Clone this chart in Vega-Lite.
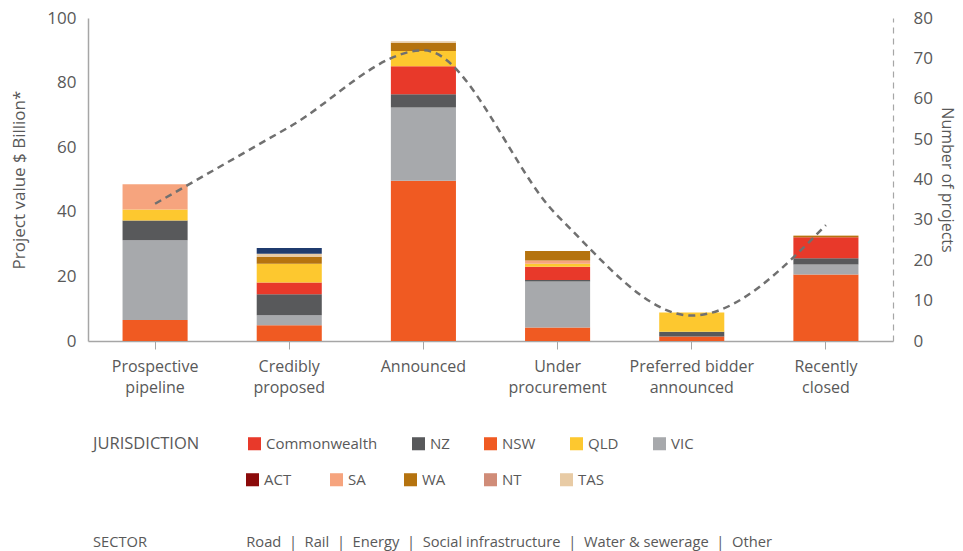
{
  "$schema": "https://vega.github.io/schema/vega-lite/v6.json",
  "autosize": "none",
  "width": 805,
  "height": 323,
  "padding": {"left": 88, "top": 18, "right": 70, "bottom": 210},
  "background": "white",
  "config": {
    "view": {"stroke": null},
    "font": "Open Sans",
    "axis": {"labelColor": "#595959", "titleColor": "#595959", "labelFont": "Open Sans", "titleFont": "Open Sans", "titleFontWeight": "normal", "domainColor": "#A6A6A6", "tickColor": "#A6A6A6", "grid": false},
    "legend": {"padding": 0, "labelFontSize": 15, "labelColor": "#595959", "labelFont": "Open Sans", "symbolType": "square", "symbolSize": 170, "symbolStrokeWidth": 0, "titleFontSize": 16.5, "titleFontWeight": "normal", "titleColor": "#595959", "titleFont": "Open Sans"}
  },
  "title": {
    "text": "SECTOR\u00a0\u00a0\u00a0\u00a0\u00a0\u00a0\u00a0\u00a0\u00a0\u00a0\u00a0\u00a0\u00a0\u00a0\u00a0\u00a0\u00a0\u00a0\u00a0\u00a0\u00a0\u00a0\u00a0\u00a0\u00a0\u00a0Road\u00a0\u00a0|\u00a0\u00a0Rail\u00a0\u00a0|\u00a0\u00a0Energy\u00a0\u00a0|\u00a0\u00a0Social infrastructure\u00a0\u00a0|\u00a0\u00a0Water & sewerage\u00a0\u00a0|\u00a0\u00a0Other",
    "orient": "bottom",
    "anchor": "start",
    "frame": "group",
    "dx": 5,
    "fontSize": 14.7,
    "fontWeight": "normal",
    "color": "#595959",
    "font": "Open Sans",
    "offset": 47
  },
  "datasets": {
    "bars": [
      {"stage": "Prospective pipeline", "jurisdiction": "NSW", "value": 6.5, "rank": 1},
      {"stage": "Prospective pipeline", "jurisdiction": "VIC", "value": 24.7, "rank": 2},
      {"stage": "Prospective pipeline", "jurisdiction": "NZ", "value": 6.1, "rank": 3},
      {"stage": "Prospective pipeline", "jurisdiction": "QLD", "value": 3.4, "rank": 5},
      {"stage": "Prospective pipeline", "jurisdiction": "SA", "value": 7.8, "rank": 6},
      {"stage": "Credibly proposed", "jurisdiction": "NSW", "value": 4.9, "rank": 1},
      {"stage": "Credibly proposed", "jurisdiction": "VIC", "value": 3.1, "rank": 2},
      {"stage": "Credibly proposed", "jurisdiction": "NZ", "value": 6.5, "rank": 3},
      {"stage": "Credibly proposed", "jurisdiction": "Commonwealth", "value": 3.6, "rank": 4},
      {"stage": "Credibly proposed", "jurisdiction": "QLD", "value": 5.8, "rank": 5},
      {"stage": "Credibly proposed", "jurisdiction": "WA", "value": 2.1, "rank": 7},
      {"stage": "Credibly proposed", "jurisdiction": "TAS", "value": 1.0, "rank": 10},
      {"stage": "Credibly proposed", "jurisdiction": "Other", "value": 1.8, "rank": 11},
      {"stage": "Announced", "jurisdiction": "NSW", "value": 49.6, "rank": 1},
      {"stage": "Announced", "jurisdiction": "VIC", "value": 22.7, "rank": 2},
      {"stage": "Announced", "jurisdiction": "NZ", "value": 4.1, "rank": 3},
      {"stage": "Announced", "jurisdiction": "Commonwealth", "value": 8.7, "rank": 4},
      {"stage": "Announced", "jurisdiction": "QLD", "value": 4.7, "rank": 5},
      {"stage": "Announced", "jurisdiction": "WA", "value": 2.5, "rank": 7},
      {"stage": "Announced", "jurisdiction": "TAS", "value": 0.5, "rank": 10},
      {"stage": "Under procurement", "jurisdiction": "NSW", "value": 4.2, "rank": 1},
      {"stage": "Under procurement", "jurisdiction": "VIC", "value": 14.2, "rank": 2},
      {"stage": "Under procurement", "jurisdiction": "NZ", "value": 0.5, "rank": 3},
      {"stage": "Under procurement", "jurisdiction": "Commonwealth", "value": 4.1, "rank": 4},
      {"stage": "Under procurement", "jurisdiction": "QLD", "value": 0.9, "rank": 5},
      {"stage": "Under procurement", "jurisdiction": "SA", "value": 1.0, "rank": 6},
      {"stage": "Under procurement", "jurisdiction": "WA", "value": 3.0, "rank": 7},
      {"stage": "Preferred bidder announced", "jurisdiction": "NSW", "value": 1.4, "rank": 1},
      {"stage": "Preferred bidder announced", "jurisdiction": "NZ", "value": 1.5, "rank": 3},
      {"stage": "Preferred bidder announced", "jurisdiction": "QLD", "value": 5.9, "rank": 5},
      {"stage": "Recently closed", "jurisdiction": "NSW", "value": 20.6, "rank": 1},
      {"stage": "Recently closed", "jurisdiction": "VIC", "value": 3.1, "rank": 2},
      {"stage": "Recently closed", "jurisdiction": "NZ", "value": 1.9, "rank": 3},
      {"stage": "Recently closed", "jurisdiction": "Commonwealth", "value": 6.5, "rank": 4},
      {"stage": "Recently closed", "jurisdiction": "WA", "value": 0.4, "rank": 7},
      {"stage": "Recently closed", "jurisdiction": "TAS", "value": 0.3, "rank": 10}
    ],
    "projects": [
      {"stage": "Prospective pipeline", "projects": 34},
      {"stage": "Credibly proposed", "projects": 53},
      {"stage": "Announced", "projects": 72},
      {"stage": "Under procurement", "projects": 31},
      {"stage": "Preferred bidder announced", "projects": 6.3},
      {"stage": "Recently closed", "projects": 28.7}
    ]
  },
  "encoding": {
    "x": {
      "field": "stage",
      "type": "nominal",
      "sort": ["Prospective pipeline", "Credibly proposed", "Announced", "Under procurement", "Preferred bidder announced", "Recently closed"],
      "scale": {"paddingInner": 0.515, "paddingOuter": 0.2575},
      "axis": {
        "title": null,
        "labelAngle": 0,
        "labelFontSize": 16,
        "labelLineHeight": 21,
        "labelPadding": 9,
        "tickSize": 8,
        "domainWidth": 1.5,
        "labelExpr": "datum.value == 'Prospective pipeline' ? ['Prospective','pipeline'] : datum.value == 'Credibly proposed' ? ['Credibly','proposed'] : datum.value == 'Under procurement' ? ['Under','procurement'] : datum.value == 'Preferred bidder announced' ? ['Preferred bidder','announced'] : datum.value == 'Recently closed' ? ['Recently','closed'] : datum.value"
      }
    }
  },
  "layer": [
    {
      "data": {"name": "bars"},
      "mark": {"type": "bar", "stroke": null},
      "encoding": {
        "y": {
          "field": "value",
          "type": "quantitative",
          "aggregate": "sum",
          "stack": "zero",
          "scale": {"domain": [0, 100], "nice": false},
          "axis": {"title": "Project  value $ Billion*", "titleFontSize": 17, "labelFontSize": 17, "values": [0, 20, 40, 60, 80, 100], "ticks": false, "labelPadding": 12, "titlePadding": 18, "domainWidth": 1.5}
        },
        "color": {
          "field": "jurisdiction",
          "type": "nominal",
          "scale": {
            "domain": ["Commonwealth", "NZ", "NSW", "QLD", "VIC", "ACT", "SA", "WA", "NT", "TAS", "Other"],
            "range": ["#E8392A", "#58595B", "#F05A22", "#FDC82F", "#A7A9AC", "#8B0A0A", "#F6A47E", "#B5730F", "#D08C78", "#E8CBA5", "#1F3B6E"]
          },
          "legend": {
            "values": ["Commonwealth", "NZ", "NSW", "QLD", "VIC"],
            "orient": "none",
            "legendX": 5,
            "legendY": 418,
            "direction": "horizontal",
            "columnPadding": 33,
            "title": "JURISDICTION",
            "titleOrient": "left",
            "titlePadding": 47
          }
        },
        "order": {"field": "rank", "type": "quantitative", "sort": "ascending"}
      }
    },
    {
      "data": {"name": "bars"},
      "transform": [{"filter": "datum.value < 0"}],
      "mark": {"type": "bar", "stroke": null},
      "encoding": {
        "y": {"field": "value", "type": "quantitative", "axis": null},
        "fill": {
          "field": "jurisdiction",
          "type": "nominal",
          "scale": {
            "domain": ["ACT", "SA", "WA", "NT", "TAS"],
            "range": ["#8B0A0A", "#F6A47E", "#B5730F", "#D08C78", "#E8CBA5"]
          },
          "legend": {
            "orient": "none",
            "legendX": 157,
            "legendY": 454,
            "direction": "horizontal",
            "columnPadding": 37,
            "title": null
          }
        }
      }
    },
    {
      "data": {"name": "projects"},
      "mark": {"type": "line", "interpolate": "monotone", "strokeDash": [7, 5], "color": "#707070", "strokeWidth": 2.5},
      "encoding": {
        "y": {
          "field": "projects",
          "type": "quantitative",
          "scale": {"domain": [0, 80], "nice": false},
          "axis": {"title": "Number of projects", "orient": "right", "titleFontSize": 16, "labelFontSize": 17, "values": [0, 10, 20, 30, 40, 50, 60, 70, 80], "ticks": false, "labelPadding": 20, "titlePadding": 6, "domainDash": [6, 5], "domainWidth": 1.2}
        }
      }
    }
  ],
  "resolve": {"scale": {"y": "independent"}}
}
